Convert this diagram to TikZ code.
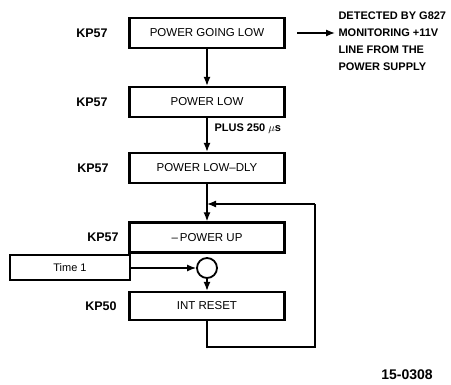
\documentclass[tikz,border=0pt]{standalone}
\usepackage{fontspec}
\setmainfont{Liberation Sans}
\usetikzlibrary{arrows.meta,positioning,calc}

\begin{document}
\begin{tikzpicture}[x=1pt,y=-1pt,>={Latex[length=9pt,width=7pt]}]
\tikzset{
stagebox/.style={draw,line width=2.4pt,minimum width=155pt,minimum height=30pt,inner sep=0pt,
font=\fontsize{11.5}{13}\selectfont},
kplab/.style={font=\bfseries\fontsize{12.5}{14}\selectfont},
note/.style={font=\bfseries\fontsize{11}{17}\selectfont,align=left,anchor=west},
link/.style={->,line width=1.3pt}
}
\useasboundingbox (0,0) rectangle (451,385);

% main chain
\node[stagebox] (goinglow) at (207,33) {POWER GOING LOW};
\node[stagebox] (low) at (207,102) {POWER LOW};
\node[stagebox] (lowdly) at (207,168) {POWER LOW--DLY};
\node[stagebox] (pwrup) at (207,237.5) {--\,POWER UP};
\node[stagebox,minimum height=28pt] (intreset) at (207,306) {INT RESET};
\node[draw,line width=2pt,minimum width=120pt,minimum height=25pt,inner sep=0pt,
  font=\fontsize{11}{12}\selectfont] (time1) at (70,268) {Time 1};
\node[draw,circle,line width=1.8pt,minimum size=20pt,inner sep=0pt] (join) at (207,268) {};

\node[kplab] (kp1) at (92,33) {KP57};
\node[kplab] (kp2) at (92,102) {KP57};
\node[kplab] (kp3) at (93,168) {KP57};
\node[kplab] (kp4) at (103,237.5) {KP57};
\node[kplab] (kp5) at (101,306) {KP50};

\node[note] (detect) at (335,41) {DETECTED BY G827\\MONITORING +11V\\LINE FROM THE\\POWER SUPPLY};
\node[font=\bfseries\fontsize{11}{13}\selectfont,anchor=west] (plus) at (211,129) {PLUS 250 $\mu$s};
\node[font=\bfseries\fontsize{14}{16}\selectfont] (fignum) at (407,375) {15-0308};

\coordinate (fb) at (207,204);
\coordinate (loopbot) at (207,347);
\coordinate (loopright) at (315,204);
\coordinate (detstart) at (297,33);

\draw[link] (detstart) -- (detstart-|detect.west);
\draw[link] (goinglow) -- (low);
\draw[link] (low) -- (lowdly);
\draw[link] (lowdly) -- (pwrup);
\draw[link] (time1) -- (join);
\draw[link] (join) -- (intreset);
\draw[line width=1.3pt] (intreset) -- (loopbot) -| (loopright);
\draw[link] (loopright) -- (fb);
\end{tikzpicture}
\end{document}
